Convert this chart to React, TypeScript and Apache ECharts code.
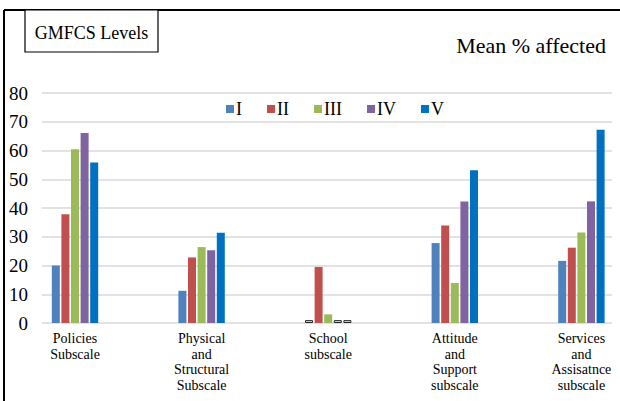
import React, { useEffect, useRef } from "react";
import * as echarts from "echarts";

const categories = [
  "Policies\nSubscale",
  "Physical\nand\nStructural\nSubscale",
  "School\nsubscale",
  "Attitude\nand\nSupport\nsubscale",
  "Services\nand\nAssisatnce\nsubscale",
];
const levels = ["I", "II", "III", "IV", "V"];
const levelI = [20, 11.2, 1, 27.8, 21.6];
const levelII = [37.8, 22.8, 19.5, 33.9, 26.2];
const levelIII = [60.4, 26.4, 3, 13.9, 31.5];
const levelIV = [66.1, 25.3, 1, 42.3, 42.3];
const levelV = [55.8, 31.4, 1, 53.1, 67.2];
const yTicks = { min: 0, max: 80, interval: 10 };

const colors = ["#4F81BD", "#C0504D", "#9BBB59", "#8064A2", "#0070C0"];
const FONT = "Liberation Serif";

export default function App() {
  const ref = useRef<HTMLDivElement>(null);

  useEffect(() => {
    document.body.style.margin = "0";
    if (!ref.current) return;
    const chart = echarts.init(ref.current, null, { renderer: "svg" });
    const values = [levelI, levelII, levelIII, levelIV, levelV];

    const series = levels.map((name, i) => ({
      name,
      type: "bar",
      xAxisIndex: 1,
      yAxisIndex: 1,
      barWidth: 8,
      barGap: "20%",
      itemStyle: { color: colors[i] },
      data: values[i].map((v, j) =>
        // near-zero School subscale entries are outlined
        j === 2 && v <= 1
          ? { value: v, itemStyle: { color: "#e6e6e6", borderColor: "#222", borderWidth: 1 } }
          : v
      ),
    }));

    chart.setOption({
      animation: false,
      grid: [
        // gridlines and value labels
        { left: 42, right: 8, top: 93, bottom: 78, outerBoundsMode: "none" },
        // category bands for the bars
        { left: 11.7, width: 633, top: 93, bottom: 78, outerBoundsMode: "none" },
      ],
      xAxis: [
        { type: "value", gridIndex: 0, show: false, min: 0, max: 1 },
        {
          type: "category",
          gridIndex: 1,
          data: categories,
          axisLine: { show: false },
          axisTick: { show: false },
          axisLabel: {
            interval: 0,
            margin: 8,
            color: "#000",
            fontFamily: FONT,
            fontSize: 14,
            lineHeight: 15.5,
          },
        },
      ],
      yAxis: [
        {
          type: "value",
          gridIndex: 0,
          ...yTicks,
          axisLine: { show: false },
          axisTick: { show: false },
          axisLabel: { color: "#000", fontFamily: FONT, fontSize: 19, margin: 14 },
          splitLine: { lineStyle: { color: "#d9d9d9", width: 1.5 } },
        },
        {
          type: "value",
          gridIndex: 1,
          ...yTicks,
          show: false,
          splitLine: { show: false },
        },
      ],
      legend: {
        data: levels,
        left: 221,
        top: 95,
        itemWidth: 8,
        itemHeight: 8,
        itemGap: 25,
        icon: "rect",
        textStyle: { color: "#000", fontFamily: FONT, fontSize: 18, padding: [0, 0, 0, -3] },
      },
      graphic: [
        { type: "line", shape: { x1: 4, y1: 10, x2: 620, y2: 10 }, style: { stroke: "#000", lineWidth: 2 } },
        { type: "line", shape: { x1: 4, y1: 10, x2: 4, y2: 401 }, style: { stroke: "#000", lineWidth: 2 } },
        {
          type: "rect",
          shape: { x: 25, y: 10, width: 133, height: 42 },
          style: { fill: "#fff", stroke: "#000", lineWidth: 1.2 },
        },
        {
          type: "text",
          x: 91.5,
          y: 33,
          style: {
            text: "GMFCS Levels",
            fill: "#000",
            fontFamily: FONT,
            fontSize: 18,
            align: "center",
            verticalAlign: "middle",
          },
        },
        {
          type: "text",
          x: 606,
          y: 45,
          style: {
            text: "Mean % affected",
            fill: "#000",
            fontFamily: FONT,
            fontSize: 22,
            align: "right",
            verticalAlign: "middle",
          },
        },
      ],
      series,
    });

    return () => chart.dispose();
  }, []);

  return <div ref={ref} style={{ width: 620, height: 401 }} />;
}
